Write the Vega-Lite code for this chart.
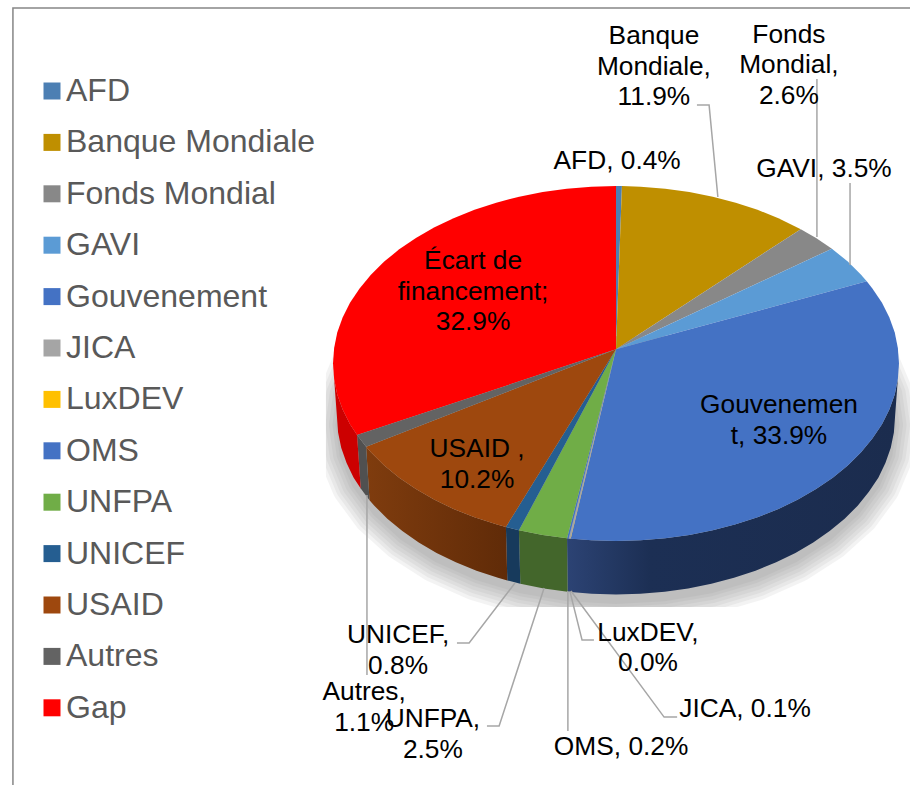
{"$schema":"https://vega.github.io/schema/vega-lite/v6.json","width":910,"height":785,"padding":0,"autosize":"none","background":"#ffffff","config":{"view":{"stroke":null},"font":"Liberation Sans"},
"datasets":{
"shadow":[{"x":0.854,"y":0.154},{"x":0.927,"y":-0.004},{"x":0.971,"y":-0.172},{"x":0.986,"y":-0.346},{"x":0.971,"y":-0.52},{"x":0.927,"y":-0.688},{"x":0.854,"y":-0.846},{"x":0.755,"y":-0.989},{"x":0.634,"y":-1.112},{"x":0.493,"y":-1.212},{"x":0.337,"y":-1.286},{"x":0.171,"y":-1.331},{"x":0,"y":-1.346},{"x":-0.171,"y":-1.331},{"x":-0.337,"y":-1.286},{"x":-0.493,"y":-1.212},{"x":-0.634,"y":-1.112},{"x":-0.755,"y":-0.989},{"x":-0.854,"y":-0.846},{"x":-0.927,"y":-0.688},{"x":-0.971,"y":-0.52},{"x":-0.986,"y":-0.346},{"x":-0.971,"y":-0.172},{"x":-0.927,"y":-0.004},{"x":-0.854,"y":0.154}],
"cover":[{"x":-1.2,"x2":1.0389,"y":-1.372,"y2":-1.5},{"x":-1.2,"x2":-1.025,"y":0,"y2":-1.5}],
"walls":[
{"wall":"Gouv","x":1,"y":0},{"wall":"Gouv","x":0.996,"y":-0.087},{"wall":"Gouv","x":0.985,"y":-0.174},{"wall":"Gouv","x":0.966,"y":-0.259},{"wall":"Gouv","x":0.94,"y":-0.342},{"wall":"Gouv","x":0.906,"y":-0.423},{"wall":"Gouv","x":0.866,"y":-0.5},{"wall":"Gouv","x":0.819,"y":-0.574},{"wall":"Gouv","x":0.766,"y":-0.643},{"wall":"Gouv","x":0.707,"y":-0.707},{"wall":"Gouv","x":0.643,"y":-0.766},{"wall":"Gouv","x":0.574,"y":-0.819},{"wall":"Gouv","x":0.5,"y":-0.866},{"wall":"Gouv","x":0.423,"y":-0.906},{"wall":"Gouv","x":0.342,"y":-0.94},{"wall":"Gouv","x":0.259,"y":-0.966},{"wall":"Gouv","x":0.174,"y":-0.985},{"wall":"Gouv","x":0.087,"y":-0.996},{"wall":"Gouv","x":0,"y":-1},{"wall":"Gouv","x":-0.087,"y":-0.996},{"wall":"Gouv","x":-0.173,"y":-0.985},{"wall":"Gouv","x":-0.171,"y":-1.286},{"wall":"Gouv","x":-0.086,"y":-1.297},{"wall":"Gouv","x":0,"y":-1.301},{"wall":"Gouv","x":0.086,"y":-1.297},{"wall":"Gouv","x":0.172,"y":-1.286},{"wall":"Gouv","x":0.255,"y":-1.267},{"wall":"Gouv","x":0.337,"y":-1.241},{"wall":"Gouv","x":0.417,"y":-1.207},{"wall":"Gouv","x":0.493,"y":-1.167},{"wall":"Gouv","x":0.566,"y":-1.12},{"wall":"Gouv","x":0.634,"y":-1.067},{"wall":"Gouv","x":0.697,"y":-1.008},{"wall":"Gouv","x":0.755,"y":-0.944},{"wall":"Gouv","x":0.808,"y":-0.875},{"wall":"Gouv","x":0.854,"y":-0.801},{"wall":"Gouv","x":0.893,"y":-0.724},{"wall":"Gouv","x":0.927,"y":-0.643},{"wall":"Gouv","x":0.952,"y":-0.56},{"wall":"Gouv","x":0.971,"y":-0.475},{"wall":"Gouv","x":0.982,"y":-0.388},{"wall":"Gouv","x":0.986,"y":-0.301},
{"wall":"UNFPA","x":-0.173,"y":-0.985},{"wall":"UNFPA","x":-0.259,"y":-0.966},{"wall":"UNFPA","x":-0.343,"y":-0.94},{"wall":"UNFPA","x":-0.338,"y":-1.241},{"wall":"UNFPA","x":-0.255,"y":-1.267},{"wall":"UNFPA","x":-0.171,"y":-1.286},
{"wall":"UNICEF","x":-0.343,"y":-0.94},{"wall":"UNICEF","x":-0.389,"y":-0.921},{"wall":"UNICEF","x":-0.384,"y":-1.222},{"wall":"UNICEF","x":-0.338,"y":-1.241},
{"wall":"USAID","x":-0.389,"y":-0.921},{"wall":"USAID","x":-0.423,"y":-0.906},{"wall":"USAID","x":-0.5,"y":-0.866},{"wall":"USAID","x":-0.574,"y":-0.819},{"wall":"USAID","x":-0.643,"y":-0.766},{"wall":"USAID","x":-0.707,"y":-0.707},{"wall":"USAID","x":-0.766,"y":-0.643},{"wall":"USAID","x":-0.819,"y":-0.574},{"wall":"USAID","x":-0.866,"y":-0.5},{"wall":"USAID","x":-0.883,"y":-0.469},{"wall":"USAID","x":-0.871,"y":-0.77},{"wall":"USAID","x":-0.854,"y":-0.801},{"wall":"USAID","x":-0.808,"y":-0.875},{"wall":"USAID","x":-0.755,"y":-0.944},{"wall":"USAID","x":-0.697,"y":-1.008},{"wall":"USAID","x":-0.634,"y":-1.067},{"wall":"USAID","x":-0.566,"y":-1.12},{"wall":"USAID","x":-0.493,"y":-1.167},{"wall":"USAID","x":-0.417,"y":-1.207},{"wall":"USAID","x":-0.384,"y":-1.222},
{"wall":"Autres","x":-0.883,"y":-0.469},{"wall":"Autres","x":-0.915,"y":-0.403},{"wall":"Autres","x":-0.902,"y":-0.704},{"wall":"Autres","x":-0.871,"y":-0.77},
{"wall":"Gap","x":-0.915,"y":-0.403},{"wall":"Gap","x":-0.94,"y":-0.342},{"wall":"Gap","x":-0.966,"y":-0.259},{"wall":"Gap","x":-0.985,"y":-0.174},{"wall":"Gap","x":-0.996,"y":-0.087},{"wall":"Gap","x":-1,"y":0},{"wall":"Gap","x":-0.986,"y":-0.301},{"wall":"Gap","x":-0.982,"y":-0.388},{"wall":"Gap","x":-0.971,"y":-0.475},{"wall":"Gap","x":-0.952,"y":-0.56},{"wall":"Gap","x":-0.927,"y":-0.643},{"wall":"Gap","x":-0.902,"y":-0.704}
],
"wedges":[
{"name":"Gap","x":0,"y":0.08},{"name":"Gap","x":-0.915,"y":-0.403},{"name":"Gap","x":-0.94,"y":-0.342},{"name":"Gap","x":-0.966,"y":-0.259},{"name":"Gap","x":-0.985,"y":-0.174},{"name":"Gap","x":-0.996,"y":-0.087},{"name":"Gap","x":-1,"y":0},{"name":"Gap","x":-0.996,"y":0.087},{"name":"Gap","x":-0.985,"y":0.174},{"name":"Gap","x":-0.966,"y":0.259},{"name":"Gap","x":-0.94,"y":0.342},{"name":"Gap","x":-0.906,"y":0.423},{"name":"Gap","x":-0.866,"y":0.5},{"name":"Gap","x":-0.819,"y":0.574},{"name":"Gap","x":-0.766,"y":0.643},{"name":"Gap","x":-0.707,"y":0.707},{"name":"Gap","x":-0.643,"y":0.766},{"name":"Gap","x":-0.574,"y":0.819},{"name":"Gap","x":-0.5,"y":0.866},{"name":"Gap","x":-0.423,"y":0.906},{"name":"Gap","x":-0.342,"y":0.94},{"name":"Gap","x":-0.259,"y":0.966},{"name":"Gap","x":-0.174,"y":0.985},{"name":"Gap","x":-0.087,"y":0.996},{"name":"Gap","x":0,"y":1},
{"name":"AFD","x":0,"y":0.08},{"name":"AFD","x":0,"y":1},{"name":"AFD","x":0.021,"y":1},
{"name":"Banque Mondiale","x":0,"y":0.08},{"name":"Banque Mondiale","x":0.021,"y":1},{"name":"Banque Mondiale","x":0.087,"y":0.996},{"name":"Banque Mondiale","x":0.174,"y":0.985},{"name":"Banque Mondiale","x":0.259,"y":0.966},{"name":"Banque Mondiale","x":0.342,"y":0.94},{"name":"Banque Mondiale","x":0.423,"y":0.906},{"name":"Banque Mondiale","x":0.5,"y":0.866},{"name":"Banque Mondiale","x":0.574,"y":0.819},{"name":"Banque Mondiale","x":0.653,"y":0.757},
{"name":"Fonds Mondial","x":0,"y":0.08},{"name":"Fonds Mondial","x":0.653,"y":0.757},{"name":"Fonds Mondial","x":0.707,"y":0.707},{"name":"Fonds Mondial","x":0.763,"y":0.647},
{"name":"GAVI","x":0,"y":0.08},{"name":"GAVI","x":0.763,"y":0.647},{"name":"GAVI","x":0.819,"y":0.574},{"name":"GAVI","x":0.866,"y":0.5},{"name":"GAVI","x":0.886,"y":0.463},
{"name":"Gouvenement","x":0,"y":0.08},{"name":"Gouvenement","x":0.886,"y":0.463},{"name":"Gouvenement","x":0.906,"y":0.423},{"name":"Gouvenement","x":0.94,"y":0.342},{"name":"Gouvenement","x":0.966,"y":0.259},{"name":"Gouvenement","x":0.985,"y":0.174},{"name":"Gouvenement","x":0.996,"y":0.087},{"name":"Gouvenement","x":1,"y":0},{"name":"Gouvenement","x":0.996,"y":-0.087},{"name":"Gouvenement","x":0.985,"y":-0.174},{"name":"Gouvenement","x":0.966,"y":-0.259},{"name":"Gouvenement","x":0.94,"y":-0.342},{"name":"Gouvenement","x":0.906,"y":-0.423},{"name":"Gouvenement","x":0.866,"y":-0.5},{"name":"Gouvenement","x":0.819,"y":-0.574},{"name":"Gouvenement","x":0.766,"y":-0.643},{"name":"Gouvenement","x":0.707,"y":-0.707},{"name":"Gouvenement","x":0.643,"y":-0.766},{"name":"Gouvenement","x":0.574,"y":-0.819},{"name":"Gouvenement","x":0.5,"y":-0.866},{"name":"Gouvenement","x":0.423,"y":-0.906},{"name":"Gouvenement","x":0.342,"y":-0.94},{"name":"Gouvenement","x":0.259,"y":-0.966},{"name":"Gouvenement","x":0.174,"y":-0.985},{"name":"Gouvenement","x":0.087,"y":-0.996},{"name":"Gouvenement","x":0,"y":-1},{"name":"Gouvenement","x":-0.087,"y":-0.996},{"name":"Gouvenement","x":-0.16,"y":-0.987},
{"name":"LuxDEV","x":0,"y":0.08},{"name":"LuxDEV","x":-0.16,"y":-0.987},{"name":"LuxDEV","x":-0.161,"y":-0.987},
{"name":"JICA","x":0,"y":0.08},{"name":"JICA","x":-0.161,"y":-0.987},{"name":"JICA","x":-0.167,"y":-0.986},
{"name":"OMS","x":0,"y":0.08},{"name":"OMS","x":-0.167,"y":-0.986},{"name":"OMS","x":-0.173,"y":-0.985},
{"name":"UNFPA","x":0,"y":0.08},{"name":"UNFPA","x":-0.173,"y":-0.985},{"name":"UNFPA","x":-0.259,"y":-0.966},{"name":"UNFPA","x":-0.343,"y":-0.94},
{"name":"UNICEF","x":0,"y":0.08},{"name":"UNICEF","x":-0.343,"y":-0.94},{"name":"UNICEF","x":-0.389,"y":-0.921},
{"name":"USAID","x":0,"y":0.08},{"name":"USAID","x":-0.389,"y":-0.921},{"name":"USAID","x":-0.423,"y":-0.906},{"name":"USAID","x":-0.5,"y":-0.866},{"name":"USAID","x":-0.574,"y":-0.819},{"name":"USAID","x":-0.643,"y":-0.766},{"name":"USAID","x":-0.707,"y":-0.707},{"name":"USAID","x":-0.766,"y":-0.643},{"name":"USAID","x":-0.819,"y":-0.574},{"name":"USAID","x":-0.866,"y":-0.5},{"name":"USAID","x":-0.883,"y":-0.469},
{"name":"Autres","x":0,"y":0.08},{"name":"Autres","x":-0.883,"y":-0.469},{"name":"Autres","x":-0.915,"y":-0.403}
],
"leaders":[
{"to":"Banque Mondiale","x":0.286,"y":1.456},{"to":"Banque Mondiale","x":0.329,"y":1.456},{"to":"Banque Mondiale","x":0.36,"y":0.938},
{"to":"Fonds Mondial","x":0.71,"y":1.603},{"to":"Fonds Mondial","x":0.71,"y":0.713},
{"to":"GAVI","x":0.827,"y":1.017},{"to":"GAVI","x":0.827,"y":0.555},
{"to":"Autres","x":-0.88,"y":-0.741},{"to":"Autres","x":-0.88,"y":-1.755},
{"to":"UNICEF","x":-0.562,"y":-1.575},{"to":"UNICEF","x":-0.519,"y":-1.575},{"to":"UNICEF","x":-0.357,"y":-1.237},
{"to":"UNFPA","x":-0.456,"y":-2.042},{"to":"UNFPA","x":-0.413,"y":-2.042},{"to":"UNFPA","x":-0.254,"y":-1.265},
{"to":"OMS","x":-0.17,"y":-2.07},{"to":"OMS","x":-0.17,"y":-1.282},
{"to":"LuxDEV","x":-0.078,"y":-1.558},{"to":"LuxDEV","x":-0.12,"y":-1.558},{"to":"LuxDEV","x":-0.163,"y":-1.282},
{"to":"JICA","x":0.216,"y":-1.992},{"to":"JICA","x":0.17,"y":-1.992},{"to":"JICA","x":-0.159,"y":-1.282}
],
"frame":[{"x":-2.131,"y":-2.3746},{"x":-2.131,"y":2.003},{"x":1.0389,"y":2.003}],
"labels":[
{"label":"AFD, 0.4%","share":0.4,"x":0.004,"y":1.141},
{"label":"Banque\nMondiale,\n11.9%","share":11.9,"x":0.134,"y":1.845},
{"label":"Fonds\nMondial,\n2.6%","share":2.6,"x":0.611,"y":1.851},
{"label":"GAVI, 3.5%","share":3.5,"x":0.735,"y":1.096},
{"label":"Gouvenemen\nt, 33.9%","share":33.9,"x":0.576,"y":-0.234},
{"label":"LuxDEV,\n0.0%","share":0,"x":0.113,"y":-1.518},
{"label":"JICA, 0.1%","share":0.1,"x":0.456,"y":-1.946},
{"label":"OMS, 0.2%","share":0.2,"x":0.018,"y":-2.161},
{"label":"UNFPA,\n2.5%","share":2.5,"x":-0.647,"y":-2.003},
{"label":"UNICEF,\n0.8%","share":0.8,"x":-0.77,"y":-1.53},
{"label":"USAID ,\n10.2%","share":10.2,"x":-0.491,"y":-0.482},
{"label":"Autres,\n1.1%","share":1.1,"x":-0.89,"y":-1.851},
{"label":"Écart de\nfinancement;\n32.9%","share":32.9,"x":-0.505,"y":0.577}
]},
"encoding":{"x":{"field":"x","type":"quantitative","axis":null,"scale":{"domain":[-2.1767,1.0389],"nice":false,"zero":false}},"y":{"field":"y","type":"quantitative","axis":null,"scale":{"domain":[-2.3746,2.0479],"nice":false,"zero":false}}},
"layer":[
{"data":{"name":"shadow"},"mark":{"type":"line","stroke":"#808080","fill":"#808080","opacity":0.09,"strokeWidth":44,"strokeJoin":"round"},"encoding":{"order":{"value":null}}},
{"data":{"name":"shadow"},"mark":{"type":"line","stroke":"#808080","fill":"#808080","opacity":0.09,"strokeWidth":37,"strokeJoin":"round"},"encoding":{"order":{"value":null}}},
{"data":{"name":"shadow"},"mark":{"type":"line","stroke":"#808080","fill":"#808080","opacity":0.09,"strokeWidth":30,"strokeJoin":"round"},"encoding":{"order":{"value":null}}},
{"data":{"name":"shadow"},"mark":{"type":"line","stroke":"#808080","fill":"#808080","opacity":0.09,"strokeWidth":23,"strokeJoin":"round"},"encoding":{"order":{"value":null}}},
{"data":{"name":"shadow"},"mark":{"type":"line","stroke":"#808080","fill":"#808080","opacity":0.09,"strokeWidth":16,"strokeJoin":"round"},"encoding":{"order":{"value":null}}},
{"data":{"name":"shadow"},"mark":{"type":"line","stroke":"#808080","fill":"#808080","opacity":0.09,"strokeWidth":9,"strokeJoin":"round"},"encoding":{"order":{"value":null}}},
{"data":{"name":"shadow"},"mark":{"type":"line","stroke":"#808080","fill":"#808080","opacity":0.09,"strokeWidth":3,"strokeJoin":"round"},"encoding":{"order":{"value":null}}},
{"data":{"name":"cover"},"mark":{"type":"rect","fill":"#ffffff"},"encoding":{"x2":{"field":"x2"},"y2":{"field":"y2"}}},
{"data":{"name":"walls"},"transform":[{"filter":"datum.wall==='Gouv'"}],"mark":{"type":"line","stroke":null,"fill":{"gradient":"linear","x1":0,"y1":0,"x2":1,"y2":0,"stops":[{"offset":0,"color":"#2c4374"},{"offset":0.25,"color":"#1c2f54"},{"offset":1,"color":"#1b2c4e"}]}},"encoding":{"order":{"value":null}}},
{"data":{"name":"walls"},"transform":[{"filter":"datum.wall==='UNFPA'"}],"mark":{"type":"line","stroke":null,"fill":"#43662b"},"encoding":{"order":{"value":null}}},
{"data":{"name":"walls"},"transform":[{"filter":"datum.wall==='UNICEF'"}],"mark":{"type":"line","stroke":null,"fill":"#173a5c"},"encoding":{"order":{"value":null}}},
{"data":{"name":"walls"},"transform":[{"filter":"datum.wall==='USAID'"}],"mark":{"type":"line","stroke":null,"fill":{"gradient":"linear","x1":0,"y1":0,"x2":1,"y2":0,"stops":[{"offset":0,"color":"#7f3c0e"},{"offset":1,"color":"#602b08"}]}},"encoding":{"order":{"value":null}}},
{"data":{"name":"walls"},"transform":[{"filter":"datum.wall==='Autres'"}],"mark":{"type":"line","stroke":null,"fill":"#505050"},"encoding":{"order":{"value":null}}},
{"data":{"name":"walls"},"transform":[{"filter":"datum.wall==='Gap'"}],"mark":{"type":"line","stroke":null,"fill":"#cc0000"},"encoding":{"order":{"value":null}}},
{"data":{"name":"wedges"},"mark":{"type":"line","stroke":null},"encoding":{"order":{"value":null},"fill":{"field":"name","type":"nominal","scale":{"domain":["AFD","Banque Mondiale","Fonds Mondial","GAVI","Gouvenement","JICA","LuxDEV","OMS","UNFPA","UNICEF","USAID","Autres","Gap"],"range":["#4c7fb3","#bf8f00","#888888","#5b9bd5","#4472c4","#a5a5a5","#ffc000","#4472c4","#70ad47","#255e91","#9e480e","#636363","#ff0000"]},"legend":{"title":null,"orient":"none","legendX":36,"legendY":75,"symbolType":"square","symbolSize":289,"symbolStrokeWidth":0,"labelFontSize":32,"labelFont":"Liberation Sans","labelColor":"#595959","labelOffset":-2,"rowPadding":19.4,"padding":0,"labelLimit":400}}}},
{"data":{"name":"leaders"},"mark":{"type":"line","stroke":"#a6a6a6","strokeWidth":1.5},"encoding":{"order":{"value":null},"detail":{"field":"to"}}},
{"data":{"name":"frame"},"mark":{"type":"line","stroke":"#868686","strokeWidth":1.5,"clip":false},"encoding":{"order":{"value":null}}},
{"data":{"name":"labels"},"mark":{"type":"text","font":"Liberation Sans","fontSize":26.3,"color":"#000000","align":"center","baseline":"middle","lineBreak":"\n","lineHeight":30.5},"encoding":{"text":{"field":"label"}}}
]}
